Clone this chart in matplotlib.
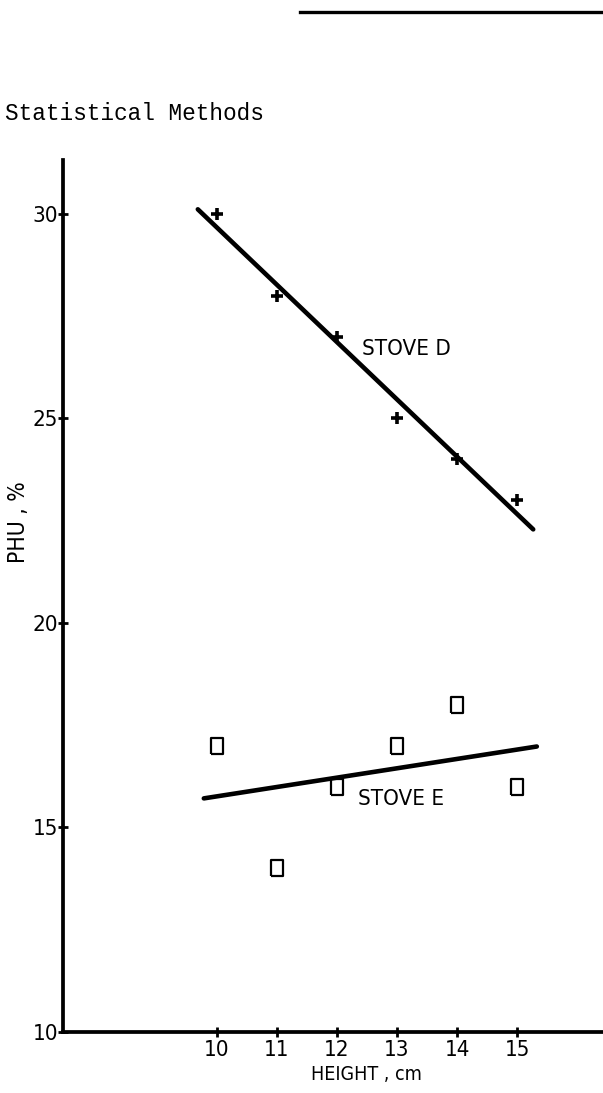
import matplotlib.pyplot as plt
import numpy as np
from matplotlib.lines import Line2D

# Data
heights = [10, 11, 12, 13, 14, 15]
phu_stove_d = [30, 28, 27, 25, 24, 23]
phu_stove_e = [17, 14, 16, 17, 18, 16]
# x range over which each fitted line is drawn
fit_range_d = [9.68, 15.27]
fit_range_e = [9.78, 15.33]

y_ticks = [10, 15, 20, 25, 30]

FONT = dict(family=["DejaVu Sans"], stretch="condensed")


def main():
    fig = plt.figure(figsize=(6.03, 10.93), dpi=100)
    ax = fig.add_axes([63 / 603, 1 - 1032 / 1093, 540 / 603, 872 / 1093])

    # Stove D: plus markers + least squares line
    ax.plot(heights, phu_stove_d, ls="none", marker="+", ms=9, mew=2.6, color="black")
    slope, icpt = np.polyfit(heights, phu_stove_d, 1)
    xx = np.array(fit_range_d)
    ax.plot(xx, slope * xx + icpt, color="black", lw=3.3, solid_capstyle="round")

    # Stove E: tall open squares + least squares line
    box = [(-0.37, -0.5), (0.37, -0.5), (0.37, 0.5), (-0.37, 0.5), (-0.37, -0.5)]
    ax.plot(heights, phu_stove_e, ls="none", marker=box, ms=11, mew=1.6,
            mfc="white", mec="black")
    slope, icpt = np.polyfit(heights, phu_stove_e, 1)
    xx = np.array(fit_range_e)
    ax.plot(xx, slope * xx + icpt, color="black", lw=3.3, solid_capstyle="round")

    ax.text(12.42, 26.7, "STOVE D", fontsize=16, ha="left", va="center", **FONT)
    ax.text(12.35, 15.7, "STOVE E", fontsize=16, ha="left", va="center", **FONT)

    ax.set_xlim(7.433, 16.433)
    ax.set_ylim(10, 31.32)
    ax.set_xticks(heights)
    ax.set_yticks(y_ticks)
    for lbl in ax.get_xticklabels() + ax.get_yticklabels():
        lbl.set_fontsize(16)
        lbl.set_family(FONT["family"])
        lbl.set_fontstretch(FONT["stretch"])
    ax.tick_params(axis="both", direction="inout", length=7, width=2, color="black")
    ax.tick_params(axis="y", pad=0)
    ax.tick_params(axis="x", pad=2)

    for side in ["top", "right"]:
        ax.spines[side].set_visible(False)
    for side in ["left", "bottom"]:
        ax.spines[side].set_linewidth(2.7)
    ax.patch.set_alpha(0)

    fig.text(19 / 603, 1 - 522 / 1093, "PHU , %", fontsize=16.5,
             rotation=90, ha="center", va="center", **FONT)
    fig.text(366 / 603, 1 - 1074 / 1093, "HEIGHT , cm", fontsize=14,
             ha="center", va="center", **FONT)

    fig.text(5 / 603, 1 - 113 / 1093, "Statistical Methods",
             family=["Liberation Mono", "DejaVu Sans Mono"], fontsize=16.4,
             ha="left", va="center")
    fig.add_artist(Line2D([300 / 603, 1.0], [1 - 12 / 1093, 1 - 12 / 1093],
                          transform=fig.transFigure, color="black", lw=2.4))

    fig.savefig("out.png", dpi=100)
    plt.close(fig)


if __name__ == "__main__":
    main()
